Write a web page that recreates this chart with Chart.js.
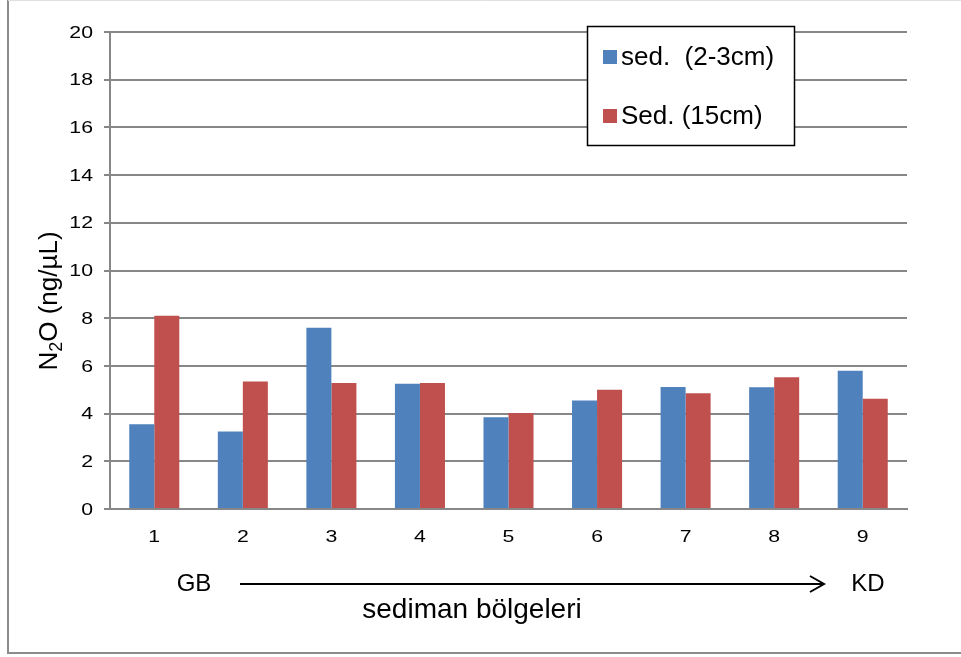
<!DOCTYPE html>
<html>
<head>
<meta charset="utf-8">
<script src="https://cdn.jsdelivr.net/npm/chart.js@4/dist/chart.umd.min.js"></script>
<style>
  html, body { margin: 0; padding: 0; background: #fff; }
  #wrap { position: relative; width: 961px; height: 657px; }
</style>
</head>
<body>
<div id="wrap"><canvas id="myChart" width="961" height="657"></canvas></div>
<script>
var categories = ["1", "2", "3", "4", "5", "6", "7", "8", "9"];
var sedShallow = [3.55, 3.25, 7.6, 5.25, 3.85, 4.55, 5.12, 5.1, 5.8];
var sedDeep = [8.1, 5.35, 5.28, 5.28, 4.02, 5.0, 4.85, 5.52, 4.62];
var seriesNames = ["sed.  (2-3cm)", "Sed. (15cm)"];
var yTicks = [0, 2, 4, 6, 8, 10, 12, 14, 16, 18, 20];

var FONT = "'Liberation Sans', Arial, sans-serif";
var gridColor = "#878787";
Chart.defaults.font.family = FONT;
Chart.defaults.color = "#000";

// text drawn a bit wider, like the original's rendering
function wideText(c, s, x, y, sx, align) {
  c.save();
  c.translate(x, y);
  c.scale(sx, 1);
  c.textAlign = align;
  c.fillText(s, 0, 0);
  c.restore();
}

// frame, tick labels, y title with subscript, arrow annotation, legend box
var extras = {
  id: "extras",
  beforeDraw: function (chart) {
    var c = chart.ctx;
    c.save();
    c.fillStyle = "#fff";
    c.fillRect(0, 0, chart.width, chart.height);
    c.strokeStyle = "#8c8c8c";
    c.lineWidth = 2;
    c.beginPath();
    c.moveTo(8, 0);
    c.lineTo(8, 653);
    c.lineTo(961, 653);
    c.stroke();
    c.strokeStyle = "#e0e0e0";
    c.lineWidth = 1;
    c.beginPath();
    c.moveTo(8, 0.5);
    c.lineTo(961, 0.5);
    c.stroke();
    c.restore();
  },
  afterDraw: function (chart) {
    var c = chart.ctx;
    var xs = chart.scales.x, ysc = chart.scales.y;

    // tick labels
    c.save();
    c.fillStyle = "#000";
    c.font = "17px " + FONT;
    c.textBaseline = "middle";
    yTicks.forEach(function (v) {
      wideText(c, String(v), 93, ysc.getPixelForValue(v) + 1, 1.25, "right");
    });
    categories.forEach(function (lab, i) {
      wideText(c, lab, xs.getPixelForValue(i), 537, 1.25, "center");
    });
    c.restore();

    c.save();
    // y axis title, N2O with subscript
    c.translate(50, 301);
    c.rotate(-Math.PI / 2);
    c.fillStyle = "#000";
    c.textBaseline = "middle";
    var p1 = "N", p3 = "O (ng/µL)";
    c.font = "18px " + FONT;
    var w2 = c.measureText("2").width;
    c.font = "26px " + FONT;
    var w1 = c.measureText(p1).width, w3 = c.measureText(p3).width;
    var x0 = -(w1 + w2 + w3) / 2;
    c.fillText(p1, x0, 0);
    c.font = "18px " + FONT;
    c.fillText("2", x0 + w1, 7);
    c.font = "26px " + FONT;
    c.fillText(p3, x0 + w1 + w2, 0);
    c.restore();

    // arrow annotation
    c.save();
    c.fillStyle = "#000";
    c.textBaseline = "middle";
    c.textAlign = "center";
    c.font = "24px " + FONT;
    c.fillText("GB", 194, 584);
    c.fillText("KD", 868, 584);
    c.font = "28px " + FONT;
    c.fillText("sediman bölgeleri", 472, 610);
    c.strokeStyle = "#000";
    c.lineWidth = 2;
    c.beginPath();
    c.moveTo(240, 584);
    c.lineTo(824, 584);
    c.stroke();
    c.beginPath();
    c.moveTo(810, 576);
    c.lineTo(824, 584);
    c.lineTo(810, 592);
    c.stroke();
    c.restore();

    // legend
    c.save();
    c.fillStyle = "#fff";
    c.fillRect(587, 26, 208, 120);
    c.strokeStyle = "#000";
    c.lineWidth = 1.5;
    c.strokeRect(587.5, 26.5, 207, 119);
    var ds = chart.data.datasets;
    var ly = [57, 116];
    c.font = "26px " + FONT;
    c.textBaseline = "middle";
    for (var i = 0; i < ds.length; i++) {
      c.fillStyle = ds[i].backgroundColor;
      c.fillRect(603, ly[i] - 7, 14, 14);
      c.fillStyle = "#000";
      c.fillText(ds[i].label, 621, ly[i] + 1);
    }
    c.restore();
  }
};

var data = {
  labels: categories,
  datasets: [
    {
      label: seriesNames[0],
      data: sedShallow,
      backgroundColor: "#4F81BD",
      borderWidth: 0
    },
    {
      label: seriesNames[1],
      data: sedDeep,
      backgroundColor: "#C0504D",
      borderWidth: 0
    }
  ]
};

var options = {
  responsive: false,
  animation: false,
  layout: { padding: { left: 54, right: 54, top: 32, bottom: 98 } },
  datasets: { bar: { categoryPercentage: 0.565, barPercentage: 1.0 } },
  plugins: { legend: { display: false }, tooltip: { enabled: false } },
  scales: {
    x: {
      grid: { display: false, drawTicks: false },
      border: { color: gridColor, width: 2 },
      ticks: { display: false },
      afterFit: function (s) { s.height = 50; }
    },
    y: {
      min: 0,
      max: 20,
      afterBuildTicks: function (s) { s.ticks = yTicks.map(function (v) { return { value: v }; }); },
      grid: { color: gridColor, lineWidth: 2, tickLength: 6, drawTicks: true },
      border: { color: gridColor, width: 2 },
      ticks: { display: false },
      afterFit: function (s) { s.width = 56; }
    }
  }
};

var ctx = document.getElementById("myChart").getContext("2d");
var myChart = new Chart(ctx, {
  type: "bar",
  data: data,
  options: options,
  plugins: [extras]
});
</script>
</body>
</html>
